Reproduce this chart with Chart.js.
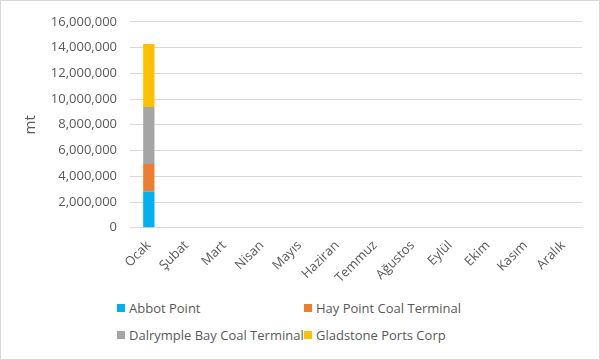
<!DOCTYPE html>
<html lang="tr">
<head>
<meta charset="UTF-8"/>
<title>Coal exports by terminal</title>
<style>
  html, body { margin: 0; padding: 0; background: #fff; }
  #wrap {
    position: relative;
    width: 598px;
    height: 358px;
    border: 1px solid #d9d9d9;
    font-family: 'Open Sans', sans-serif;
  }
  #chartBox { position: absolute; left: 0; top: 0; width: 598px; height: 287px; }
  #legend {
    position: absolute;
    left: 116px;
    top: 298px;
    display: grid;
    grid-template-columns: 187px auto;
    row-gap: 9px;
    font-size: 13px;
    color: #595959;
  }
  #legend .item { display: flex; align-items: center; white-space: nowrap; line-height: 18px; }
  #legend .sw { width: 8px; height: 8px; margin-right: 4px; }
</style>
</head>
<body>
<div id="wrap">
  <div id="chartBox"><canvas id="chart"></canvas></div>
  <div id="legend"></div>
</div>

<script src="https://cdn.jsdelivr.net/npm/chart.js"></script>
<script>
const months = ["Ocak", "Şubat", "Mart", "Nisan", "Mayıs", "Haziran", "Temmuz", "Ağustos", "Eylül", "Ekim", "Kasım", "Aralık"];

// only January has figures in the source
const abbotPoint = [2820000, null, null, null, null, null, null, null, null, null, null, null];
const hayPoint = [2130000, null, null, null, null, null, null, null, null, null, null, null];
const dalrympleBay = [4430000, null, null, null, null, null, null, null, null, null, null, null];
const gladstone = [4900000, null, null, null, null, null, null, null, null, null, null, null];

const seriesNames = ["Abbot Point", "Hay Point Coal Terminal", "Dalrymple Bay Coal Terminal", "Gladstone Ports Corp"];
const seriesColors = ["#00B0F0", "#ED7D31", "#A5A5A5", "#FFC000"];
const seriesData = [abbotPoint, hayPoint, dalrympleBay, gladstone];

const textColor = "#595959";
const gridColor = "#d9d9d9";

const chart = new Chart(document.getElementById("chart"), {
  type: "bar",
  data: {
    labels: months,
    datasets: seriesNames.map((name, i) => ({
      label: name,
      data: seriesData[i],
      backgroundColor: seriesColors[i],
      borderWidth: 0,
      barPercentage: 0.5,
      categoryPercentage: 0.6
    }))
  },
  options: {
    responsive: true,
    maintainAspectRatio: false,
    animation: false,
    layout: { padding: { left: 21, right: 17, top: 9, bottom: 0 } },
    plugins: {
      legend: { display: false },
      tooltip: { enabled: false }
    },
    scales: {
      x: {
        stacked: true,
        grid: { display: false },
        border: { color: gridColor },
        ticks: {
          color: textColor,
          font: { family: "'Open Sans', sans-serif", size: 13 },
          minRotation: 45,
          maxRotation: 45,
          autoSkip: false,
          padding: 2
        }
      },
      y: {
        stacked: true,
        min: 0,
        max: 16000000,
        grid: { color: gridColor, drawTicks: false },
        border: { display: false },
        ticks: {
          stepSize: 2000000,
          color: textColor,
          padding: 13,
          font: { family: "'Open Sans', sans-serif", size: 13 },
          callback: v => v.toLocaleString("en-US")
        },
        title: {
          display: true,
          text: "mt",
          color: textColor,
          font: { family: "'Open Sans', sans-serif", size: 15 },
          padding: { top: 0, bottom: 0 }
        },
        afterFit: scale => { scale.width = 108; }
      }
    }
  }
});

// legend laid out in two columns like the original
const legendDiv = document.getElementById("legend");
chart.data.datasets.forEach(ds => {
  const item = document.createElement("div");
  item.className = "item";
  const sw = document.createElement("span");
  sw.className = "sw";
  sw.style.background = ds.backgroundColor;
  item.appendChild(sw);
  item.appendChild(document.createTextNode(ds.label));
  legendDiv.appendChild(item);
});
</script>
</body>
</html>
